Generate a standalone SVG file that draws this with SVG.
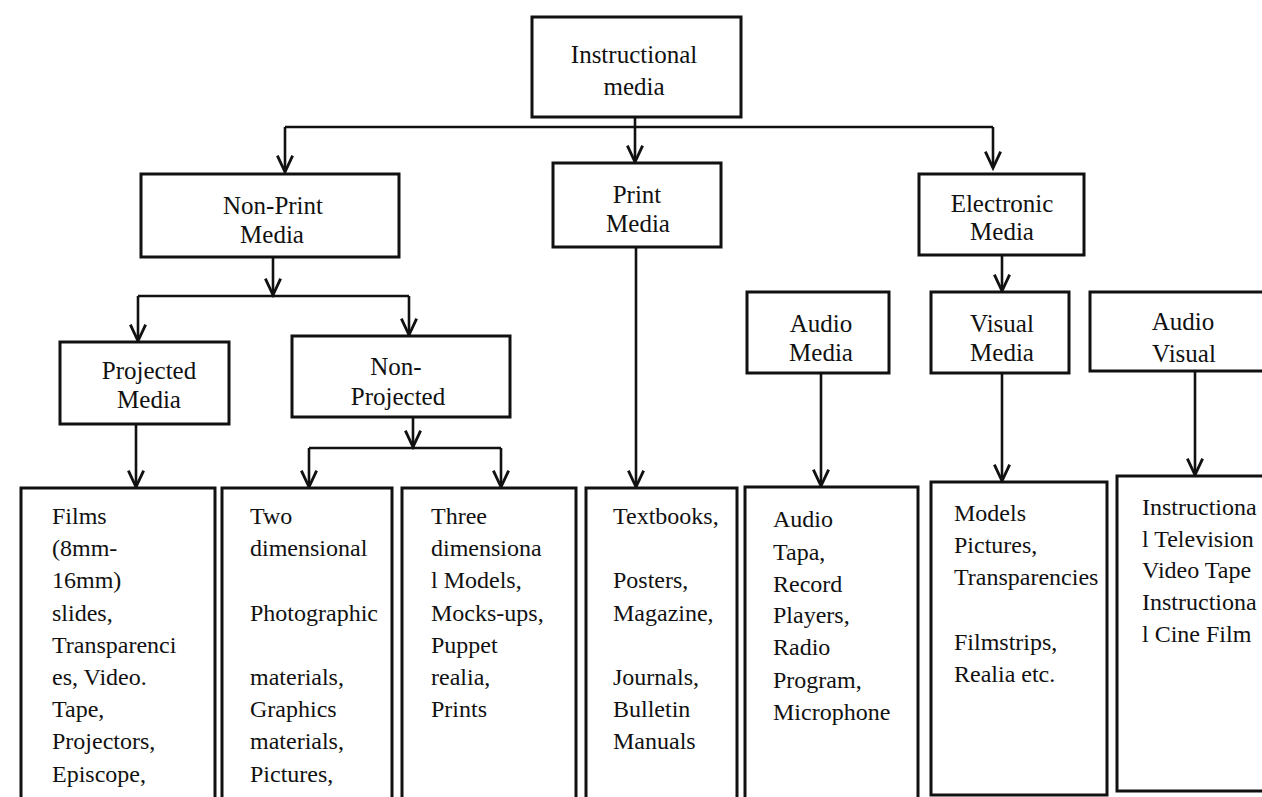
<svg xmlns="http://www.w3.org/2000/svg" width="1262" height="797" viewBox="0 0 1262 797">
<style>
.box{fill:#fff;stroke:#111;stroke-width:3}
.lbl{font-family:'Liberation Serif','DejaVu Serif','Times New Roman',serif;font-size:25px;text-anchor:middle;fill:#111}
.lst{font-family:'Liberation Serif','DejaVu Serif','Times New Roman',serif;font-size:24px;fill:#111}
.con{fill:none;stroke:#111;stroke-width:2.6}
.arr{fill:none;stroke:#111;stroke-width:2.6;marker-end:url(#ah)}
</style>
<defs>
<marker id="ah" markerUnits="userSpaceOnUse" markerWidth="24" markerHeight="24" viewBox="-18 -10 22 20" refX="0" refY="0" orient="auto">
<path d="M-15,-7 L0,0 L-15,7" fill="none" stroke="#111" stroke-width="2.6"/>
</marker>
</defs>
<rect width="1262" height="797" fill="#fff"/>

<g id="connectors">
<path class="con" d="M285,127 H993"/>
<path class="arr" d="M635,117 V162"/>
<path class="arr" d="M285,127 V172"/>
<path class="arr" d="M993,127 V168"/>
<path class="arr" d="M273,257 V295"/>
<path class="con" d="M138,296 H409"/>
<path class="arr" d="M138,296 V341"/>
<path class="arr" d="M409,296 V335"/>
<path class="arr" d="M413,417 V447"/>
<path class="con" d="M309,448 H501"/>
<path class="arr" d="M309,448 V487"/>
<path class="arr" d="M501,448 V487"/>
<path class="arr" d="M136,424 V487"/>
<path class="arr" d="M636,247 V487"/>
<path class="arr" d="M1002,255 V291"/>
<path class="arr" d="M821,373 V486"/>
<path class="arr" d="M1002,373 V481"/>
<path class="arr" d="M1195,371 V475"/>
</g>

<g id="instructional-media">
<rect class="box" x="532" y="17" width="209" height="100"/>
<text class="lbl" x="634" y="63" font-family="Liberation Serif, serif">Instructional</text>
<text class="lbl" x="634" y="95" font-family="Liberation Serif, serif">media</text>
</g>

<g id="non-print-media">
<rect class="box" x="141" y="174" width="258" height="83"/>
<text class="lbl" x="273" y="214">Non-Print</text>
<text class="lbl" x="272" y="243">Media</text>
</g>

<g id="print-media">
<rect class="box" x="553" y="163" width="168" height="84"/>
<text class="lbl" x="637" y="203">Print</text>
<text class="lbl" x="638" y="232">Media</text>
</g>

<g id="electronic-media">
<rect class="box" x="919" y="174" width="165" height="81"/>
<text class="lbl" x="1002" y="212">Electronic</text>
<text class="lbl" x="1002" y="240">Media</text>
</g>

<g id="projected-media">
<rect class="box" x="60" y="342" width="169" height="82"/>
<text class="lbl" x="149" y="379">Projected</text>
<text class="lbl" x="149" y="408">Media</text>
</g>

<g id="non-projected">
<rect class="box" x="292" y="336" width="218" height="81"/>
<text class="lbl" x="396" y="375">Non-</text>
<text class="lbl" x="398" y="405">Projected</text>
</g>

<g id="audio-media">
<rect class="box" x="747" y="292" width="142" height="81"/>
<text class="lbl" x="821" y="332">Audio</text>
<text class="lbl" x="821" y="361">Media</text>
</g>

<g id="visual-media">
<rect class="box" x="931" y="292" width="138" height="81"/>
<text class="lbl" x="1002" y="332">Visual</text>
<text class="lbl" x="1002" y="361">Media</text>
</g>

<g id="audio-visual">
<rect class="box" x="1090" y="292" width="190" height="79"/>
<text class="lbl" x="1183" y="330">Audio</text>
<text class="lbl" x="1184" y="362">Visual</text>
</g>

<g id="projected-list">
<rect class="box" x="21" y="488" width="194" height="320"/>
<text class="lst" x="52" y="524">Films</text>
<text class="lst" x="52" y="556">(8mm-</text>
<text class="lst" x="52" y="588">16mm)</text>
<text class="lst" x="52" y="621">slides,</text>
<text class="lst" x="52" y="653">Transparenci</text>
<text class="lst" x="52" y="685">es, Video.</text>
<text class="lst" x="52" y="717">Tape,</text>
<text class="lst" x="52" y="749">Projectors,</text>
<text class="lst" x="52" y="782">Episcope,</text>
</g>

<g id="two-dimensional-list">
<rect class="box" x="222" y="488" width="170" height="320"/>
<text class="lst" x="250" y="524">Two</text>
<text class="lst" x="250" y="556">dimensional</text>
<text class="lst" x="250" y="621">Photographic</text>
<text class="lst" x="250" y="685">materials,</text>
<text class="lst" x="250" y="717">Graphics</text>
<text class="lst" x="250" y="749">materials,</text>
<text class="lst" x="250" y="782">Pictures,</text>
</g>

<g id="three-dimensional-list">
<rect class="box" x="402" y="488" width="174" height="320"/>
<text class="lst" x="431" y="524">Three</text>
<text class="lst" x="431" y="556">dimensiona</text>
<text class="lst" x="431" y="588">l Models,</text>
<text class="lst" x="431" y="621">Mocks-ups,</text>
<text class="lst" x="431" y="653">Puppet</text>
<text class="lst" x="431" y="685">realia,</text>
<text class="lst" x="431" y="717">Prints</text>
</g>

<g id="print-list">
<rect class="box" x="586" y="488" width="151" height="320"/>
<text class="lst" x="613" y="524">Textbooks,</text>
<text class="lst" x="613" y="588">Posters,</text>
<text class="lst" x="613" y="621">Magazine,</text>
<text class="lst" x="613" y="685">Journals,</text>
<text class="lst" x="613" y="717">Bulletin</text>
<text class="lst" x="613" y="749">Manuals</text>
</g>

<g id="audio-list">
<rect class="box" x="745" y="487" width="173" height="320"/>
<text class="lst" x="773" y="527">Audio</text>
<text class="lst" x="773" y="560">Tapa,</text>
<text class="lst" x="773" y="592">Record</text>
<text class="lst" x="773" y="623">Players,</text>
<text class="lst" x="773" y="655">Radio</text>
<text class="lst" x="773" y="688">Program,</text>
<text class="lst" x="773" y="720">Microphone</text>
</g>

<g id="visual-list">
<rect class="box" x="931" y="482" width="176" height="313"/>
<text class="lst" x="954" y="521">Models</text>
<text class="lst" x="954" y="553">Pictures,</text>
<text class="lst" x="954" y="585">Transparencies</text>
<text class="lst" x="954" y="650">Filmstrips,</text>
<text class="lst" x="954" y="682">Realia etc.</text>
</g>

<g id="audio-visual-list">
<rect class="box" x="1117" y="476" width="170" height="315"/>
<text class="lst" x="1142" y="515">Instructiona</text>
<text class="lst" x="1142" y="547">l Television</text>
<text class="lst" x="1142" y="578">Video Tape</text>
<text class="lst" x="1142" y="610">Instructiona</text>
<text class="lst" x="1142" y="642">l Cine Film</text>
</g>
</svg>
